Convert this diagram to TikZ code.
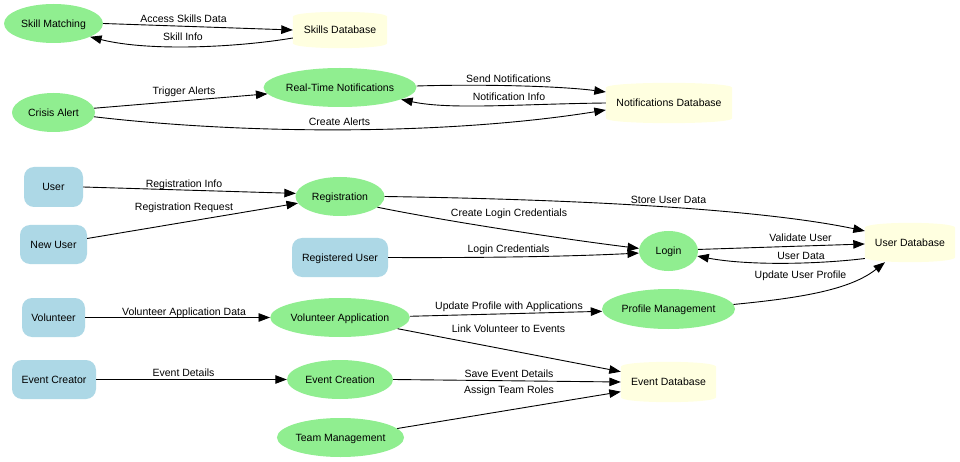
\documentclass[tikz,border=0pt]{standalone}
\usepackage{fontspec}
\setmainfont{Liberation Sans}
\usetikzlibrary{arrows.meta,shapes.geometric,backgrounds}
\definecolor{lgreen}{HTML}{90EE90}
\definecolor{lblue}{HTML}{ADD8E6}
\definecolor{lyellow}{HTML}{FFFFE0}
\newcommand\dbshape[1]{%
 \fill[lyellow] ([yshift=-5pt]#1.north west) .. controls ([yshift=1.6pt]#1.north west) and ([yshift=1.6pt]#1.north east) .. ([yshift=-5pt]#1.north east) -- ([yshift=5pt]#1.south east) .. controls ([yshift=-1.6pt]#1.south east) and ([yshift=-1.6pt]#1.south west) .. ([yshift=5pt]#1.south west) -- cycle;}
\begin{document}
\begin{tikzpicture}[x=1pt,y=-1pt,
 every node/.style={font=\fontsize{10.5}{12}\selectfont, inner sep=0pt, text height=7.5pt, text depth=0pt},
 proc/.style={ellipse, fill=lgreen, minimum height=39pt},
 ent/.style={rectangle, rounded corners=10pt, fill=lblue, minimum height=39pt},
 db/.style={rectangle, minimum height=39pt},
 flow/.style={-{Triangle[length=11.5pt,width=8.5pt]}, line width=0.9pt}]
\useasboundingbox (0,0) rectangle (960,462);
% nodes
\node[proc, minimum width=99pt] (sm) at (53.5,23.5) {Skill Matching};
\node[db, minimum width=94pt, minimum height=36pt] (sdb) at (340,30) {Skills Database};
\node[proc, minimum width=83pt] (ca) at (53.5,112.5) {Crisis Alert};
\node[proc, minimum width=152pt] (rtn) at (340,87.5) {Real-Time Notifications};
\node[db, minimum width=126pt, minimum height=40pt] (ndb) at (669,103) {Notifications Database};
\node[ent, minimum width=59pt, minimum height=40pt] (user) at (53.5,187) {User};
\node[ent, minimum width=67pt] (nu) at (53.5,244.5) {New User};
\node[proc, minimum width=89pt] (reg) at (340,196.5) {Registration};
\node[ent, minimum width=96pt] (ru) at (340,257.5) {Registered User};
\node[proc, minimum width=59pt, minimum height=40pt] (login) at (668.5,251) {Login};
\node[db, minimum width=90pt] (udb) at (910,242.5) {User Database};
\node[proc, minimum width=133pt, minimum height=40pt] (pm) at (668.5,309) {Profile Management};
\node[ent, minimum width=63pt] (vol) at (53.5,317.5) {Volunteer};
\node[proc, minimum width=136pt] (va) at (340,317.5) {Volunteer Application};
\node[ent, minimum width=84pt] (ecr) at (54,379.5) {Event Creator};
\node[proc, minimum width=106pt] (ec) at (340,379.5) {Event Creation};
\node[proc, minimum width=127pt] (tm) at (340.5,437.5) {Team Management};
\node[db, minimum width=95pt, minimum height=40pt] (edb) at (668.5,382) {Event Database};
\begin{scope}[on background layer]
\fill[white] (0,0) rectangle (960,462);
\dbshape{sdb}\dbshape{ndb}\dbshape{udb}\dbshape{edb}
\end{scope}
% edges
\draw[flow] (sm.east) -- (sdb.west);
\draw[flow] ([yshift=-8pt]sdb.west) .. controls (240,47) and (150,52) .. (sm.-20);
\draw[flow] (ca.6) -- (rtn.185);
\draw[flow] (ca.-6) .. controls (250,135) and (450,135) .. ([yshift=-7pt]ndb.west);
\draw[flow] ([yshift=1.5pt]rtn.east) .. controls (480,84) and (560,86) .. ([yshift=11pt]ndb.west);
\draw[flow] (ndb.west) .. controls (520,104) and (450,110) .. (rtn.-11);
\draw[flow] (user.east) -- (reg.176);
\draw[flow] ([yshift=6pt]nu.east) -- (reg.189);
\draw[flow] (reg.east) .. controls (550,199) and (750,207) .. ([yshift=11.5pt]udb.west);
\draw[flow] (reg.-16) .. controls (450,222) and (570,240) .. (login.175);
\draw[flow] (ru.east) .. controls (500,258) and (580,256) .. (login.184);
\draw[flow] (login.3) -- ([yshift=-1.5pt]udb.west);
\draw[flow] ([yshift=-16pt]udb.west) .. controls (820,264) and (750,266) .. (login.-10);
\draw[flow] (pm.4) .. controls (800,298) and (850,290) .. ([xshift=-25pt]udb.south);
\draw[flow] (vol.east) -- (va.west);
\draw[flow] (va.1) -- (pm.182);
\draw[flow] (va.-11) -- ([yshift=10.3pt]edb.west);
\draw[flow] (ec.east) -- (edb.west);
\draw[flow] (tm.9) -- ([yshift=-9.7pt]edb.west);
\draw[flow] (ecr.east) -- (ec.west);
% labels
\node (l1) at (183.5,19) {Access Skills Data};
\node (l2) at (183,37) {Skill Info};
\node (l3) at (184,90.5) {Trigger Alerts};
\node (l4) at (339.5,122) {Create Alerts};
\node (l5) at (508.5,79) {Send Notifications};
\node (l6) at (509,97) {Notification Info};
\node (l7) at (184,184) {Registration Info};
\node (l8) at (184,206.5) {Registration Request};
\node (l9) at (668.5,199.5) {Store User Data};
\node (l10) at (509,213) {Create Login Credentials};
\node (l11) at (508.5,249) {Login Credentials};
\node (l12) at (800.5,238) {Validate User};
\node (l13) at (801,255.5) {User Data};
\node (l14) at (800.5,275) {Update User Profile};
\node (l15) at (184,311.5) {Volunteer Application Data};
\node (l16) at (509,306) {Update Profile with Applications};
\node (l17) at (508.5,329) {Link Volunteer to Events};
\node (l18) at (509,374) {Save Event Details};
\node (l19) at (509,390) {Assign Team Roles};
\node (l20) at (183.5,373) {Event Details};
\end{tikzpicture}
\end{document}
